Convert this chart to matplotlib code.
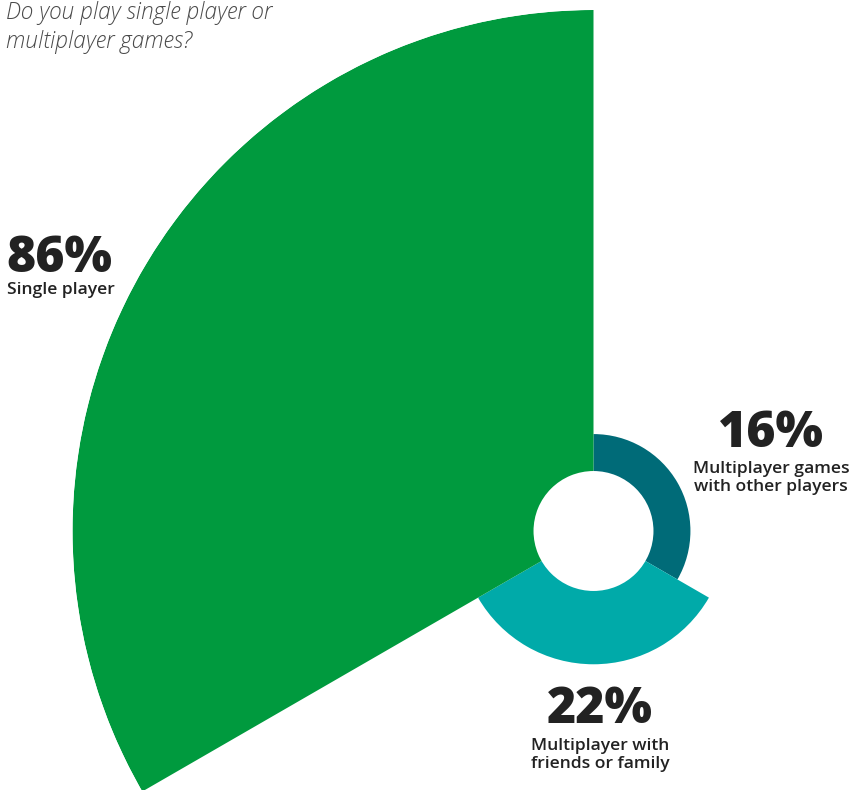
import numpy as np
import matplotlib
matplotlib.use("Agg")
import matplotlib.pyplot as plt

# survey answers, clockwise from 12 o'clock
labels = ["Multiplayer games\nwith other players",
          "Multiplayer with\nfriends or family",
          "Single player"]
values = [16, 22, 86]
colors = ["#006b78", "#00aaa9", "#009a3e"]
question = "Do you play single player or\nmultiplayer games?"

W, H = 851, 790
cx, cy = 593.5, 531      # centre of the rose, px from top-left
r_px = 521               # radius of the largest value, px
hole = 9.9               # white hole in value units

plt.rcParams['font.family'] = ['Open Sans', 'DejaVu Sans']

fig = plt.figure(figsize=(W / 100, H / 100), dpi=100)

rect = [(cx - r_px) / W, (H - cy - r_px) / H, 2 * r_px / W, 2 * r_px / H]
ax = fig.add_axes(rect, projection='polar')
ax.set_theta_zero_location('N')
ax.set_theta_direction(-1)
n = len(values)
width = 2 * np.pi / n
theta = np.arange(n) * width + width / 2
ax.bar(theta, values, width=width, color=colors, linewidth=0, align='center')
ax.bar(0, hole, width=2 * np.pi, bottom=0, color='white', linewidth=0)
ax.set_ylim(0, max(values))
ax.set_axis_off()

# text overlay in pixel coordinates
tx = fig.add_axes([0, 0, 1, 1])
tx.set_xlim(0, W)
tx.set_ylim(H, 0)
tx.set_axis_off()
tx.patch.set_alpha(0)

dark = "#222222"
tx.text(6, 48, question, fontsize=16.3, style='italic', weight='light',
        color='#4a4a4a', va='baseline', ha='left', linespacing=1.3)

big = dict(fontsize=36, weight='heavy', color=dark, va='baseline')
small = dict(fontsize=12.6, weight='semibold', color=dark, va='baseline',
             linespacing=1.15)

# single player, left side
tx.text(6, 272, f"{values[2]}%", ha='left', **big)
tx.text(7, 294, labels[2], ha='left', **small)

# multiplayer with others, right side
tx.text(771, 447, f"{values[0]}%", ha='center', **big)
tx.text(771, 491, labels[0], ha='center', multialignment='center', **small)

# multiplayer with friends, bottom
tx.text(600, 723, f"{values[1]}%", ha='center', **big)
tx.text(600, 768, labels[1], ha='center', multialignment='center', **small)

fig.savefig("out.png", dpi=100)
